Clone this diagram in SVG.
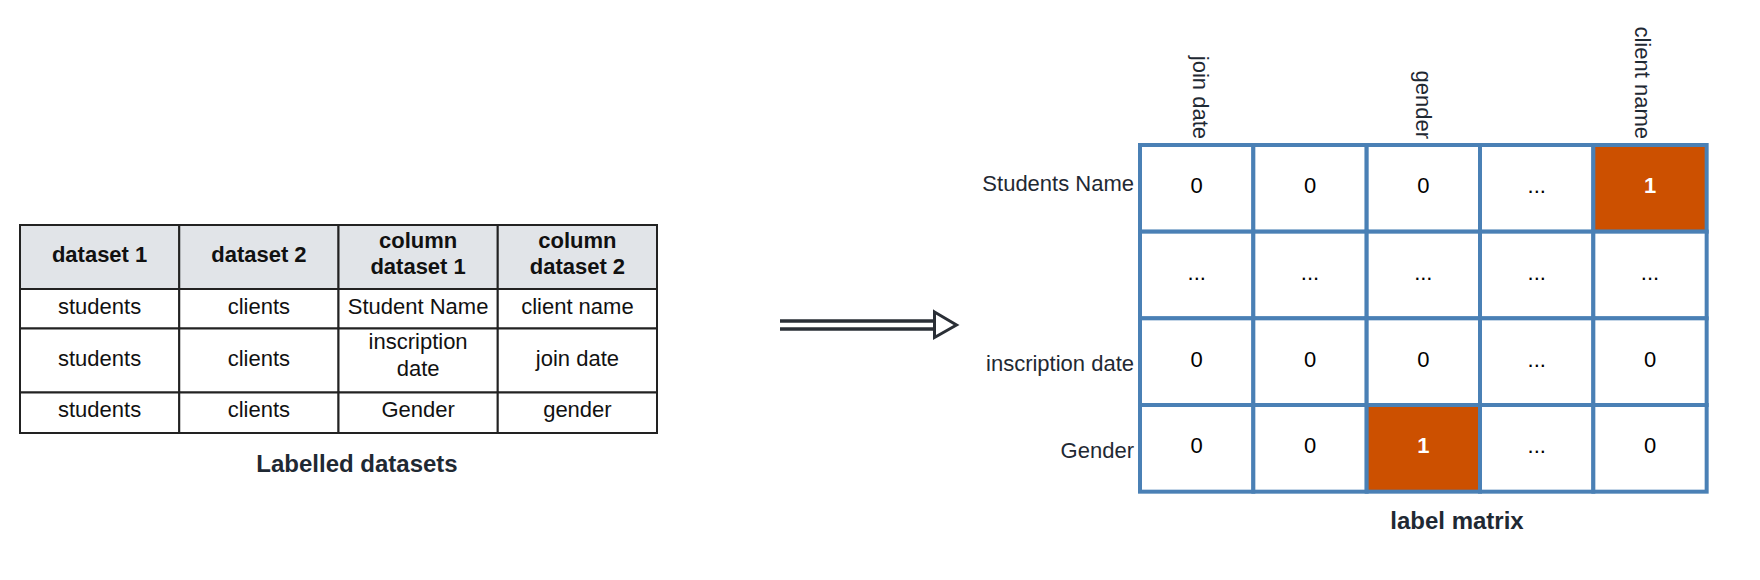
<svg xmlns="http://www.w3.org/2000/svg" width="1760" height="580" viewBox="0 0 1760 580">
<style>
  .tc{fill:#fff;stroke:#222;stroke-width:2}
  .th{fill:#e1e4e8;stroke:#222;stroke-width:2}
  .t{font-family:"Liberation Sans",Arial,sans-serif;font-size:22px;fill:#111;text-anchor:middle}
  .tb{font-family:"Liberation Sans",Arial,sans-serif;font-size:22px;font-weight:bold;fill:#111;text-anchor:middle}
  .title{font-family:"Liberation Sans",Arial,sans-serif;font-size:24px;font-weight:bold;fill:#1f2933;text-anchor:middle}
  .mc{fill:#fff;stroke:#4a80b5;stroke-width:4}
  .mo{fill:#cc5000;stroke:#4a80b5;stroke-width:4}
  .mv{font-family:"Liberation Sans",Arial,sans-serif;font-size:22px;fill:#000;text-anchor:middle}
  .mw{font-family:"Liberation Sans",Arial,sans-serif;font-size:22px;font-weight:bold;fill:#fff;text-anchor:middle}
  .rl{font-family:"Liberation Sans",Arial,sans-serif;font-size:22px;fill:#1f2933;text-anchor:end}
  .cl{font-family:"Liberation Sans",Arial,sans-serif;font-size:22px;fill:#1f2933;text-anchor:end;dominant-baseline:central}
</style>
<rect width="1760" height="580" fill="#fff"/>

<g id="table">
  <rect class="th" x="20" y="225" width="159.25" height="64"/>
  <rect class="th" x="179.25" y="225" width="159.25" height="64"/>
  <rect class="th" x="338.5" y="225" width="159.25" height="64"/>
  <rect class="th" x="497.75" y="225" width="159.25" height="64"/>
  <rect class="tc" x="20" y="289" width="159.25" height="39.5"/>
  <rect class="tc" x="179.25" y="289" width="159.25" height="39.5"/>
  <rect class="tc" x="338.5" y="289" width="159.25" height="39.5"/>
  <rect class="tc" x="497.75" y="289" width="159.25" height="39.5"/>
  <rect class="tc" x="20" y="328.5" width="159.25" height="64"/>
  <rect class="tc" x="179.25" y="328.5" width="159.25" height="64"/>
  <rect class="tc" x="338.5" y="328.5" width="159.25" height="64"/>
  <rect class="tc" x="497.75" y="328.5" width="159.25" height="64"/>
  <rect class="tc" x="20" y="392.5" width="159.25" height="40.5"/>
  <rect class="tc" x="179.25" y="392.5" width="159.25" height="40.5"/>
  <rect class="tc" x="338.5" y="392.5" width="159.25" height="40.5"/>
  <rect class="tc" x="497.75" y="392.5" width="159.25" height="40.5"/>

  <text class="tb" x="99.6" y="262">dataset 1</text>
  <text class="tb" x="258.9" y="262">dataset 2</text>
  <text class="tb" x="418.1" y="248">column</text>
  <text class="tb" x="418.1" y="274">dataset 1</text>
  <text class="tb" x="577.4" y="248">column</text>
  <text class="tb" x="577.4" y="274">dataset 2</text>

  <text class="t" x="99.6" y="314">students</text>
  <text class="t" x="258.9" y="314">clients</text>
  <text class="t" x="418.1" y="314">Student Name</text>
  <text class="t" x="577.4" y="314">client name</text>

  <text class="t" x="99.6" y="366">students</text>
  <text class="t" x="258.9" y="366">clients</text>
  <text class="t" x="418.1" y="349">inscription</text>
  <text class="t" x="418.1" y="376">date</text>
  <text class="t" x="577.4" y="366">join date</text>

  <text class="t" x="99.6" y="417">students</text>
  <text class="t" x="258.9" y="417">clients</text>
  <text class="t" x="418.1" y="417">Gender</text>
  <text class="t" x="577.4" y="417">gender</text>
</g>
<g id="table-title">
  <text class="title" x="357" y="472">Labelled datasets</text>
</g>

<g id="connectors">
  <line x1="780" y1="321" x2="934" y2="321" stroke="#2a2f36" stroke-width="3.5"/>
  <line x1="780" y1="329" x2="934" y2="329" stroke="#2a2f36" stroke-width="3.5"/>
  <polygon points="934.5,312 956.5,325 934.5,337.5" fill="#fff" stroke="#2a2f36" stroke-width="3" stroke-linejoin="miter"/>
</g>

<g id="matrix">
  <rect class="mc" x="1140" y="145" width="113.33" height="86.67"/>
  <rect class="mc" x="1253.33" y="145" width="113.33" height="86.67"/>
  <rect class="mc" x="1366.67" y="145" width="113.33" height="86.67"/>
  <rect class="mc" x="1480" y="145" width="113.33" height="86.67"/>
  <rect class="mo" x="1593.33" y="145" width="113.33" height="86.67"/>

  <rect class="mc" x="1140" y="231.67" width="113.33" height="86.67"/>
  <rect class="mc" x="1253.33" y="231.67" width="113.33" height="86.67"/>
  <rect class="mc" x="1366.67" y="231.67" width="113.33" height="86.67"/>
  <rect class="mc" x="1480" y="231.67" width="113.33" height="86.67"/>
  <rect class="mc" x="1593.33" y="231.67" width="113.33" height="86.67"/>

  <rect class="mc" x="1140" y="318.33" width="113.33" height="86.67"/>
  <rect class="mc" x="1253.33" y="318.33" width="113.33" height="86.67"/>
  <rect class="mc" x="1366.67" y="318.33" width="113.33" height="86.67"/>
  <rect class="mc" x="1480" y="318.33" width="113.33" height="86.67"/>
  <rect class="mc" x="1593.33" y="318.33" width="113.33" height="86.67"/>

  <rect class="mc" x="1140" y="405" width="113.33" height="86.67"/>
  <rect class="mc" x="1253.33" y="405" width="113.33" height="86.67"/>
  <rect class="mo" x="1366.67" y="405" width="113.33" height="86.67"/>
  <rect class="mc" x="1480" y="405" width="113.33" height="86.67"/>
  <rect class="mc" x="1593.33" y="405" width="113.33" height="86.67"/>

  <text class="mv" x="1196.7" y="193">0</text>
  <text class="mv" x="1310" y="193">0</text>
  <text class="mv" x="1423.3" y="193">0</text>
  <text class="mv" x="1536.7" y="193">...</text>
  <text class="mw" x="1650" y="193">1</text>

  <text class="mv" x="1196.7" y="280">...</text>
  <text class="mv" x="1310" y="280">...</text>
  <text class="mv" x="1423.3" y="280">...</text>
  <text class="mv" x="1536.7" y="280">...</text>
  <text class="mv" x="1650" y="280">...</text>

  <text class="mv" x="1196.7" y="367">0</text>
  <text class="mv" x="1310" y="367">0</text>
  <text class="mv" x="1423.3" y="367">0</text>
  <text class="mv" x="1536.7" y="367">...</text>
  <text class="mv" x="1650" y="367">0</text>

  <text class="mv" x="1196.7" y="453">0</text>
  <text class="mv" x="1310" y="453">0</text>
  <text class="mw" x="1423.3" y="453">1</text>
  <text class="mv" x="1536.7" y="453">...</text>
  <text class="mv" x="1650" y="453">0</text>
</g>

<g id="row-labels">
  <text class="rl" x="1134" y="191">Students Name</text>
  <text class="rl" x="1134" y="371">inscription date</text>
  <text class="rl" x="1134" y="458">Gender</text>
</g>

<g id="column-labels">
  <text class="cl" transform="translate(1200,139) rotate(90)">join date</text>
  <text class="cl" transform="translate(1423,139) rotate(90)">gender</text>
  <text class="cl" transform="translate(1642,139) rotate(90)">client name</text>
</g>

<g id="matrix-title">
  <text class="title" x="1457" y="529">label matrix</text>
</g>
</svg>
